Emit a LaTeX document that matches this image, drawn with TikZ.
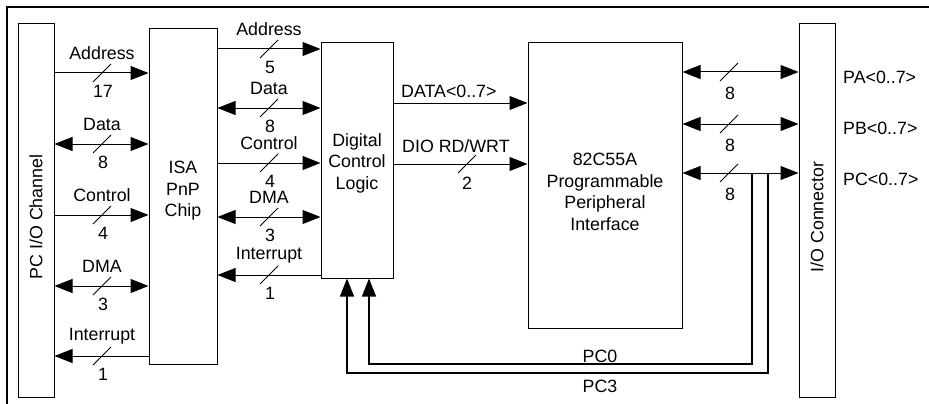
\documentclass[tikz,border=0pt]{standalone}
\usepackage{fontspec}
\setmainfont{Liberation Sans}
\usetikzlibrary{arrows.meta}

% bus arrow with a width slash, a name above and a bit count below
% #1 arrow, #2 from node, #3 to node, #4 y, #5 x of slash, #6 name, #7 count, #8 id
\newcommand\busarrow[8]{%
  \draw[bus,#1] (#2 |- 0,#4) -- (#3 |- 0,#4);
  \draw[slash] (#5-9,#4+9) -- (#5+9,#4-9);
  \node[lbl] (#8-name) at (#5,#4-19.5) {#6};
  \node[lbl] (#8-count) at (#5+1,#4+18) {#7};
}
% slash and count only
\newcommand\buscount[5]{%
  \draw[bus,#1] (#2 |- 0,#4) -- (#3 |- 0,#4);
  \draw[slash] (729-9,#4+9) -- (729+9,#4-9);
  \node[lbl] (#5) at (730,#4+21) {8};
}

\begin{document}
\begin{tikzpicture}[x=1pt,y=-1pt,
  >={Triangle[length=18pt,width=14pt]},
  blk/.style={draw,line width=1pt,inner sep=0pt},
  bus/.style={line width=1pt},
  slash/.style={line width=0.9pt},
  lbl/.style={inner sep=0pt,font=\fontsize{17.8}{21.5}\selectfont},
  txt/.style={inner sep=0pt,align=center,font=\fontsize{17.8}{21.5}\selectfont},
  fb/.style={line width=1.1pt}]
\useasboundingbox (0,0) rectangle (929,404);

% frame
\draw[line width=2pt] (7,404) -- (7,7) -- (929,7);

% blocks
\node[blk,minimum width=36pt,minimum height=373pt] (pc)  at (36,210.5) {};
\node[blk,minimum width=68pt,minimum height=335pt] (isa) at (183,196.5) {};
\node[blk,minimum width=72pt,minimum height=235pt] (dcl) at (357,160.5) {};
\node[blk,minimum width=154pt,minimum height=285pt] (ppi) at (605,185.5) {};
\node[blk,minimum width=36pt,minimum height=373pt] (ioc) at (817,210.5) {};

\node[txt,rotate=90] (pc-text) at (36,217) {PC I/O Channel};
\node[txt,rotate=90] (ioc-text) at (817,217) {I/O Connector};
\node[txt] (isa-text) at (183,191) {ISA\\PnP\\Chip};
\node[txt] (dcl-text) at (357,163) {Digital\\Control\\Logic};
\node[txt] (ppi-text) at (605,192) {82C55A\\Programmable\\Peripheral\\Interface};

% PC bus <-> ISA PnP chip
\busarrow{->}{pc.east}{isa.west}{73}{102}{Address}{17}{la}
\busarrow{<->}{pc.east}{isa.west}{144}{102}{Data}{8}{ld}
\busarrow{->}{pc.east}{isa.west}{215}{102}{Control}{4}{lc}
\busarrow{<->}{pc.east}{isa.west}{286}{102}{DMA}{3}{lm}
\busarrow{<-}{pc.east}{isa.west}{356}{102}{Interrupt}{1}{li}

% ISA PnP chip <-> digital control logic
\busarrow{->}{isa.east}{dcl.west}{49}{269}{Address}{5}{ma}
\busarrow{<->}{isa.east}{dcl.west}{108}{269}{Data}{8}{md}
\busarrow{->}{isa.east}{dcl.west}{163}{269}{Control}{4}{mc}
\busarrow{<->}{isa.east}{dcl.west}{217}{269}{DMA}{3}{mm}
\busarrow{<-}{isa.east}{dcl.west}{275}{269}{Interrupt}{1}{mi}

% digital control logic -> 82C55A
\draw[bus,->] (dcl.east |- 0,103) -- (ppi.west |- 0,103);
\node[lbl,anchor=west] (data-name) at (401,91) {DATA<0..7>};
\draw[bus,->] (dcl.east |- 0,164) -- (ppi.west |- 0,164);
\node[lbl,anchor=west] (dio-name) at (402,146) {DIO RD/WRT};
\draw[slash] (467-9,164+9) -- (467+9,164-9);
\node[lbl] (dio-count) at (467,183) {2};

% 82C55A <-> I/O connector
\buscount{<->}{ppi.east}{ioc.west}{72}{pa-count}
\buscount{<->}{ppi.east}{ioc.west}{124}{pb-count}
\buscount{<->}{ppi.east}{ioc.west}{173}{pc-count}

\node[lbl,anchor=west] (pa-name) at (843,77) {PA<0..7>};
\node[lbl,anchor=west] (pb-name) at (843,128) {PB<0..7>};
\node[lbl,anchor=west] (pcp-name) at (843,179) {PC<0..7>};

% port C feedback lines into the control logic
\coordinate (tap0) at (752,173);
\coordinate (tap3) at (768,173);
\draw[fb,->] (tap0) -- (752,364) -- (369,364) -- (dcl.south -| 369,0);
\draw[fb,->] (tap3) -- (768,373) -- (347,373) -- (dcl.south -| 347,0);
\node[lbl] (pc0-name) at (600,356) {PC0};
\node[lbl] (pc3-name) at (600,386) {PC3};
\end{tikzpicture}
\end{document}
